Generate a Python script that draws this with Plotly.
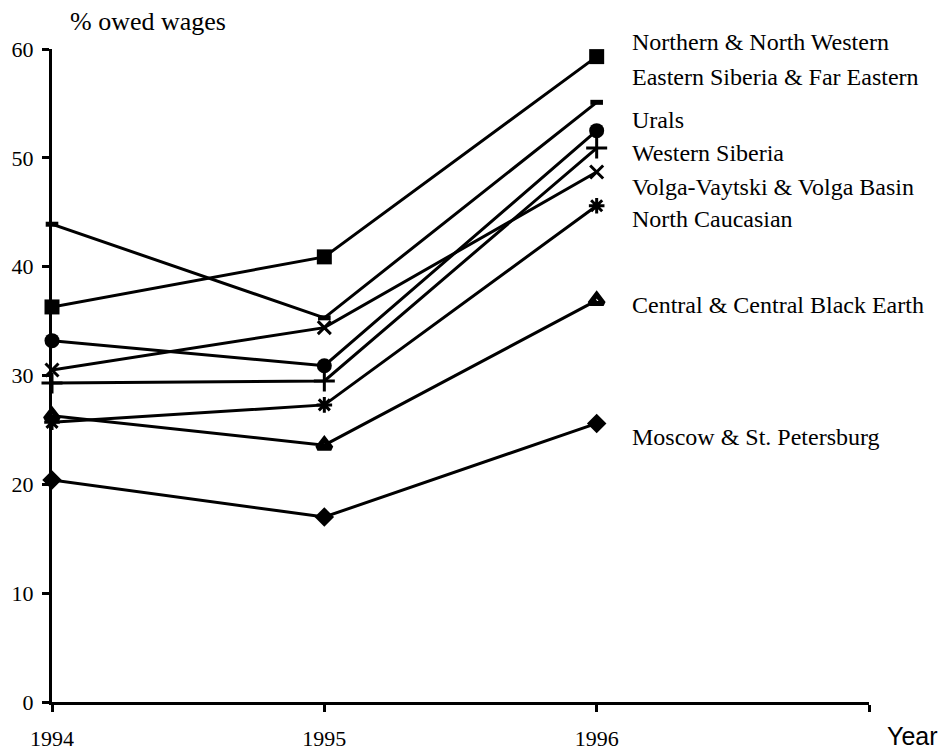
import plotly.graph_objects as go

# Share of wages owed, by region group, 1994-1996
years = [1994, 1995, 1996]

regions = [
    "Northern & North Western",
    "Eastern Siberia & Far Eastern",
    "Urals",
    "Western Siberia",
    "Volga-Vaytski & Volga Basin",
    "North Caucasian",
    "Central & Central Black Earth",
    "Moscow & St. Petersburg",
]

northern = [36.3, 40.9, 59.3]
eastern_siberia = [43.9, 35.3, 55.1]
urals = [33.2, 30.9, 52.5]
western_siberia = [29.3, 29.5, 50.9]
volga = [30.5, 34.4, 48.7]
north_caucasian = [25.7, 27.3, 45.6]
central = [26.3, 23.6, 36.9]
moscow = [20.4, 17.0, 25.6]

series = [northern, eastern_siberia, urals, western_siberia,
          volga, north_caucasian, central, moscow]

x_ticks = [1994, 1995, 1996, 1997]
x_tick_text = ["1994", "1995", "1996", ""]
y_ticks = [0, 10, 20, 30, 40, 50, 60]

# marker styling per series
marker_styles = [
    dict(symbol="square", size=15, color="black"),
    dict(symbol="line-ew", size=9, color="black", line=dict(width=5, color="black")),
    dict(symbol="circle", size=15, color="black"),
    dict(symbol="cross-thin", size=15, color="black", line=dict(width=3, color="black")),
    dict(symbol="x-thin", size=13, color="black", line=dict(width=3, color="black")),
    dict(symbol="asterisk", size=13, color="black", line=dict(width=3, color="black")),
    dict(symbol="triangle-up-open", size=12, color="black", line=dict(width=5, color="black")),
    dict(symbol="diamond", size=15, color="black"),
]

W, H = 941, 752
ML, MR, MT, MB = 52, 72, 49, 50
pw, ph = W - ML - MR, H - MT - MB


def px_to_paper(px, py):
    return (px - ML) / pw, 1 - (py - MT) / ph


serif = "Liberation Serif, Times New Roman, serif"

fig = go.Figure()
for name, vals, mk in zip(regions, series, marker_styles):
    fig.add_trace(go.Scatter(
        x=years, y=vals, name=name, mode="lines+markers",
        line=dict(color="black", width=3),
        marker=mk, cliponaxis=False, showlegend=False,
    ))

# region labels to the right of the 1996 points (pixel rows)
label_rows = [42, 77, 120, 153, 187, 219, 305, 437]
annotations = []
for name, row in zip(regions, label_rows):
    ax, ay = px_to_paper(630, row)
    annotations.append(dict(
        x=ax, y=ay, xref="paper", yref="paper", text=name, showarrow=False,
        xanchor="left", yanchor="middle",
        font=dict(family=serif, size=24, color="black")))

tx, ty = px_to_paper(68, 21)
annotations.append(dict(
    x=tx, y=ty, xref="paper", yref="paper", text="% owed wages",
    showarrow=False, xanchor="left", yanchor="middle",
    font=dict(family=serif, size=26, color="black")))

yx, yy = px_to_paper(939, 751)
annotations.append(dict(
    x=yx, y=yy, xref="paper", yref="paper", text="Year",
    showarrow=False, xanchor="right", yanchor="bottom", borderpad=0,
    font=dict(family="Liberation Sans, Arial, sans-serif", size=25, color="black")))

fig.update_layout(
    width=W, height=H,
    margin=dict(l=ML, r=MR, t=MT, b=MB, autoexpand=False),
    paper_bgcolor="white", plot_bgcolor="white",
    annotations=annotations,
    xaxis=dict(
        range=[1994, 1997], tickvals=x_ticks, ticktext=x_tick_text,
        showline=True, linecolor="black", linewidth=3,
        ticks="outside", ticklen=7, tickwidth=3, tickcolor="black",
        ticklabelstandoff=8, automargin=False,
        showgrid=False, zeroline=False,
        tickfont=dict(family=serif, size=22, color="black"),
    ),
    yaxis=dict(
        range=[0, 60], tickvals=y_ticks,
        showline=True, linecolor="black", linewidth=3,
        ticks="outside", ticklen=7, tickwidth=3, tickcolor="black",
        ticklabelstandoff=4, automargin=False,
        showgrid=False, zeroline=False,
        tickfont=dict(family=serif, size=22, color="black"),
    ),
)

fig.write_html("out.html")
